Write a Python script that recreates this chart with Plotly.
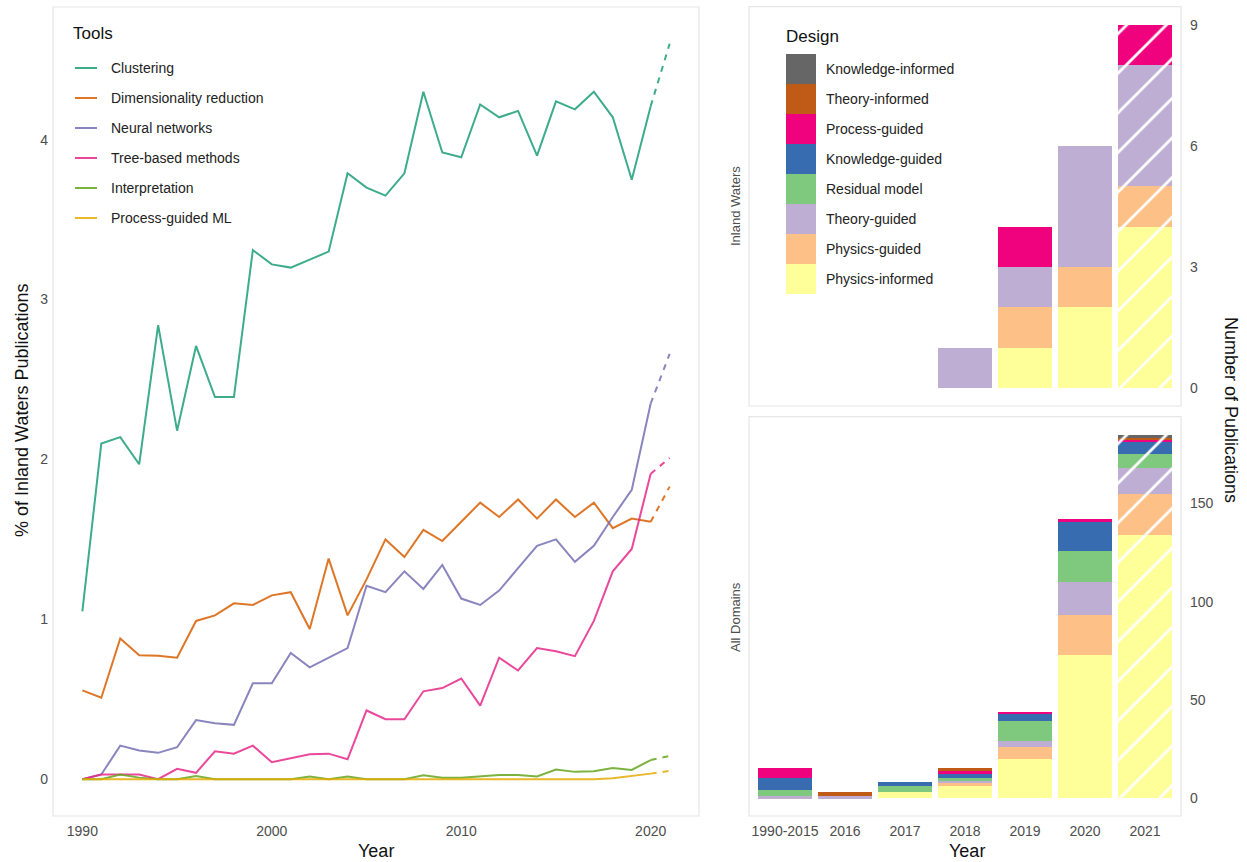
import plotly.graph_objects as go

W, H = 1247, 862
FONT = "Liberation Sans, Arial, sans-serif"
TICK_COLOR = "#4D4D4D"

# ---- Left panel: share of inland-waters publications by tool ----
years = [1990, 1991, 1992, 1993, 1994, 1995, 1996, 1997, 1998, 1999,
         2000, 2001, 2002, 2003, 2004, 2005, 2006, 2007, 2008, 2009,
         2010, 2011, 2012, 2013, 2014, 2015, 2016, 2017, 2018, 2019,
         2020, 2021]

clustering = [1.05, 2.10, 2.14, 1.97, 2.84, 2.18, 2.71, 2.39, 2.39, 3.31,
              3.22, 3.20, 3.25, 3.30, 3.79, 3.70, 3.65, 3.79, 4.30, 3.92,
              3.89, 4.22, 4.14, 4.18, 3.90, 4.24, 4.19, 4.30, 4.14, 3.75,
              4.21, 4.60]
dim_reduction = [0.556, 0.51, 0.88, 0.775, 0.773, 0.76, 0.99, 1.025, 1.10, 1.09,
                 1.15, 1.17, 0.94, 1.38, 1.025, 1.25, 1.50, 1.39, 1.56, 1.49,
                 1.61, 1.73, 1.64, 1.75, 1.63, 1.75, 1.64, 1.73, 1.57, 1.63,
                 1.61, 1.83]
neural_networks = [0.0, 0.03, 0.21, 0.18, 0.165, 0.20, 0.37, 0.35, 0.34, 0.60,
                   0.60, 0.79, 0.70, 0.76, 0.82, 1.21, 1.17, 1.30, 1.19, 1.34,
                   1.13, 1.09, 1.18, 1.32, 1.46, 1.50, 1.36, 1.46, 1.64, 1.81,
                   2.35, 2.66]
tree_based = [0.0, 0.03, 0.03, 0.03, 0.0, 0.065, 0.04, 0.175, 0.16, 0.21,
              0.106, 0.13, 0.156, 0.16, 0.125, 0.43, 0.375, 0.375, 0.55, 0.57,
              0.63, 0.46, 0.76, 0.68, 0.82, 0.80, 0.77, 0.99, 1.30, 1.44,
              1.91, 2.01]
interpretation = [0.0, 0.0, 0.03, 0.01, 0.0, 0.0, 0.02, 0.0, 0.0, 0.0,
                  0.0, 0.0, 0.017, 0.0, 0.017, 0.0, 0.0, 0.0, 0.025, 0.01,
                  0.01, 0.02, 0.027, 0.027, 0.017, 0.06, 0.046, 0.05, 0.07, 0.058,
                  0.12, 0.146]
process_guided_ml = [0.0, 0.0, 0.0, 0.0, 0.0, 0.0, 0.0, 0.0, 0.0, 0.0,
                     0.0, 0.0, 0.0, 0.0, 0.0, 0.0, 0.0, 0.0, 0.0, 0.0,
                     0.0, 0.0, 0.0, 0.0, 0.0, 0.0, 0.0, 0.0, 0.006, 0.019,
                     0.035, 0.052]

tool_names = ["Clustering", "Dimensionality reduction", "Neural networks",
              "Tree-based methods", "Interpretation", "Process-guided ML"]
tool_series = [clustering, dim_reduction, neural_networks, tree_based,
               interpretation, process_guided_ml]
tool_colors = ["#1B9E77", "#D95F02", "#7570B3", "#E7298A", "#66A61E", "#E6AB02"]

# ---- Right panels: publication counts by design ----
categories = ["1990-2015", "2016", "2017", "2018", "2019", "2020", "2021"]
designs = ["Physics-informed", "Physics-guided", "Theory-guided", "Residual model",
           "Knowledge-guided", "Process-guided", "Theory-informed", "Knowledge-informed"]
design_colors = ["#FFFF99", "#FDC086", "#BEAED4", "#7FC97F",
                 "#386CB0", "#F0027F", "#BF5B17", "#666666"]

inland_counts = {
    "Physics-informed":   [0, 0, 0, 0, 1, 2, 4],
    "Physics-guided":     [0, 0, 0, 0, 1, 1, 1],
    "Theory-guided":      [0, 0, 0, 1, 1, 3, 3],
    "Residual model":     [0, 0, 0, 0, 0, 0, 0],
    "Knowledge-guided":   [0, 0, 0, 0, 0, 0, 0],
    "Process-guided":     [0, 0, 0, 0, 1, 0, 1],
    "Theory-informed":    [0, 0, 0, 0, 0, 0, 0],
    "Knowledge-informed": [0, 0, 0, 0, 0, 0, 0],
}
all_counts = {
    "Physics-informed":   [0, 0, 3, 6, 20, 73, 134],
    "Physics-guided":     [0, 0, 0, 2, 6, 20, 21],
    "Theory-guided":      [1, 1, 0, 1, 3, 17, 13],
    "Residual model":     [3, 0, 3, 1, 10, 16, 7],
    "Knowledge-guided":   [6, 0, 2, 2, 4, 15, 7],
    "Process-guided":     [5, 0, 0, 2, 1, 1, 1],
    "Theory-informed":    [0, 2, 0, 1, 0, 0, 1],
    "Knowledge-informed": [0, 0, 0, 0, 0, 0, 1],
}
partial_year = "2021"

fig = go.Figure()

# Lines: solid through 2020, dashed for the partial final year
for name, vals, col in zip(tool_names, tool_series, tool_colors):
    fig.add_trace(go.Scatter(x=years[:-1], y=vals[:-1], mode="lines", name=name,
                             line=dict(color=col, width=2), opacity=0.85,
                             xaxis="x", yaxis="y", showlegend=False))
    fig.add_trace(go.Scatter(x=years[-2:], y=vals[-2:], mode="lines", name=name,
                             line=dict(color=col, width=2, dash="6px,6px"), opacity=0.85,
                             xaxis="x", yaxis="y", showlegend=False))

shapes_pattern = ["/" if c == partial_year else "" for c in categories]
for counts, xa, ya in [(inland_counts, "x2", "y2"), (all_counts, "x3", "y3")]:
    for d, col in zip(designs, design_colors):
        fig.add_trace(go.Bar(
            x=categories, y=counts[d], name=d, xaxis=xa, yaxis=ya,
            marker=dict(color=col, line=dict(width=0),
                        pattern=dict(shape=shapes_pattern, fillmode="overlay",
                                     fgcolor="white", fgopacity=1, size=28, solidity=0.1)),
            showlegend=False))

tickfont = dict(family=FONT, size=14, color=TICK_COLOR)
common = dict(showgrid=False, zeroline=False, ticks="", showline=False, tickfont=tickfont)

L_X = [53 / W, 699 / W]
R_X = [749 / W, 1181 / W]
fig.update_layout(
    width=W, height=H, margin=dict(l=0, r=0, t=0, b=0),
    paper_bgcolor="white", plot_bgcolor="white",
    barmode="stack", bargap=0.1,
    font=dict(family=FONT),
    xaxis=dict(domain=L_X, range=[1988.45, 2022.55], tickvals=[1990, 2000, 2010, 2020],
               anchor="y", ticklabelstandoff=5, **common),
    yaxis=dict(domain=[1 - 816 / H, 1 - 7 / H], range=[-0.23, 4.83],
               tickvals=[0, 1, 2, 3, 4], anchor="x", ticklabelstandoff=4, **common),
    xaxis2=dict(domain=R_X, type="category", categoryorder="array", categoryarray=categories,
                range=[-0.6, 6.6], showticklabels=False, anchor="y2", **common),
    yaxis2=dict(domain=[1 - 406 / H, 1 - 6.7 / H], range=[-0.45, 9.45], tickvals=[0, 3, 6, 9],
                side="right", anchor="x2", ticklabelstandoff=8, **common),
    xaxis3=dict(domain=R_X, type="category", categoryorder="array", categoryarray=categories,
                range=[-0.6, 6.6], anchor="y3", ticklabelstandoff=5, **common),
    yaxis3=dict(domain=[1 - 816 / H, 1 - 416.7 / H], range=[-9.25, 194.25],
                tickvals=[0, 50, 100, 150], side="right", anchor="x3", ticklabelstandoff=8,
                **common),
)

shapes = []
annotations = []

# Panel borders
for xa, ya in [("x", "y"), ("x2", "y2"), ("x3", "y3")]:
    shapes.append(dict(type="rect", xref=f"{xa} domain", yref=f"{ya} domain",
                       x0=0, x1=1, y0=0, y1=1, line=dict(color="#E6E6E6", width=1.2),
                       fillcolor="rgba(0,0,0,0)", layer="below"))


def px(xp, yp):
    return xp / W, 1 - yp / H


# Tools legend
tx, ty = px(71, 34)
annotations.append(dict(x=tx, y=ty, xref="paper", yref="paper", text="Tools",
                        showarrow=False, xanchor="left", yanchor="middle",
                        font=dict(family=FONT, size=17, color="#111111")))
for i, (name, col) in enumerate(zip(tool_names, tool_colors)):
    yy = 68 + 30 * i
    x0, y0 = px(75, yy)
    x1, _ = px(97, yy)
    shapes.append(dict(type="line", xref="paper", yref="paper", x0=x0, x1=x1, y0=y0, y1=y0,
                       line=dict(color=col, width=2), opacity=0.85))
    lx, ly = px(109, yy)
    annotations.append(dict(x=lx, y=ly, xref="paper", yref="paper", text=name,
                            showarrow=False, xanchor="left", yanchor="middle",
                            font=dict(family=FONT, size=14, color="#222222")))

# Design legend (top key first)
dx, dy = px(784, 36)
annotations.append(dict(x=dx, y=dy, xref="paper", yref="paper", text="Design",
                        showarrow=False, xanchor="left", yanchor="middle",
                        font=dict(family=FONT, size=17, color="#111111")))
for i, (d, col) in enumerate(zip(designs[::-1], design_colors[::-1])):
    top = 54 + 30 * i
    x0, y0 = px(786, top)
    x1, y1 = px(816, top + 30)
    shapes.append(dict(type="rect", xref="paper", yref="paper", x0=x0, x1=x1, y0=y1, y1=y0,
                       fillcolor=col, line=dict(width=0)))
    lx, ly = px(824, top + 15)
    annotations.append(dict(x=lx, y=ly, xref="paper", yref="paper", text=d,
                            showarrow=False, xanchor="left", yanchor="middle",
                            font=dict(family=FONT, size=14, color="#222222")))

# Axis titles and facet labels
title_font = dict(family=FONT, size=18, color="#111111")
for text, xp, yp, ang, f in [
    ("Year", 376, 851, 0, title_font),
    ("Year", 967, 851, 0, title_font),
    ("% of Inland Waters Publications", 22, 411, -90, title_font),
    ("Number of Publications", 1231, 410, 90, title_font),
    ("Inland Waters", 735, 206, -90, dict(family=FONT, size=13, color=TICK_COLOR)),
    ("All Domains", 735, 617, -90, dict(family=FONT, size=13, color=TICK_COLOR)),
]:
    ax_, ay_ = px(xp, yp)
    annotations.append(dict(x=ax_, y=ay_, xref="paper", yref="paper", text=text,
                            showarrow=False, textangle=ang, xanchor="center",
                            yanchor="middle", font=f))

fig.update_layout(shapes=shapes, annotations=annotations)
fig.write_html("out.html")
